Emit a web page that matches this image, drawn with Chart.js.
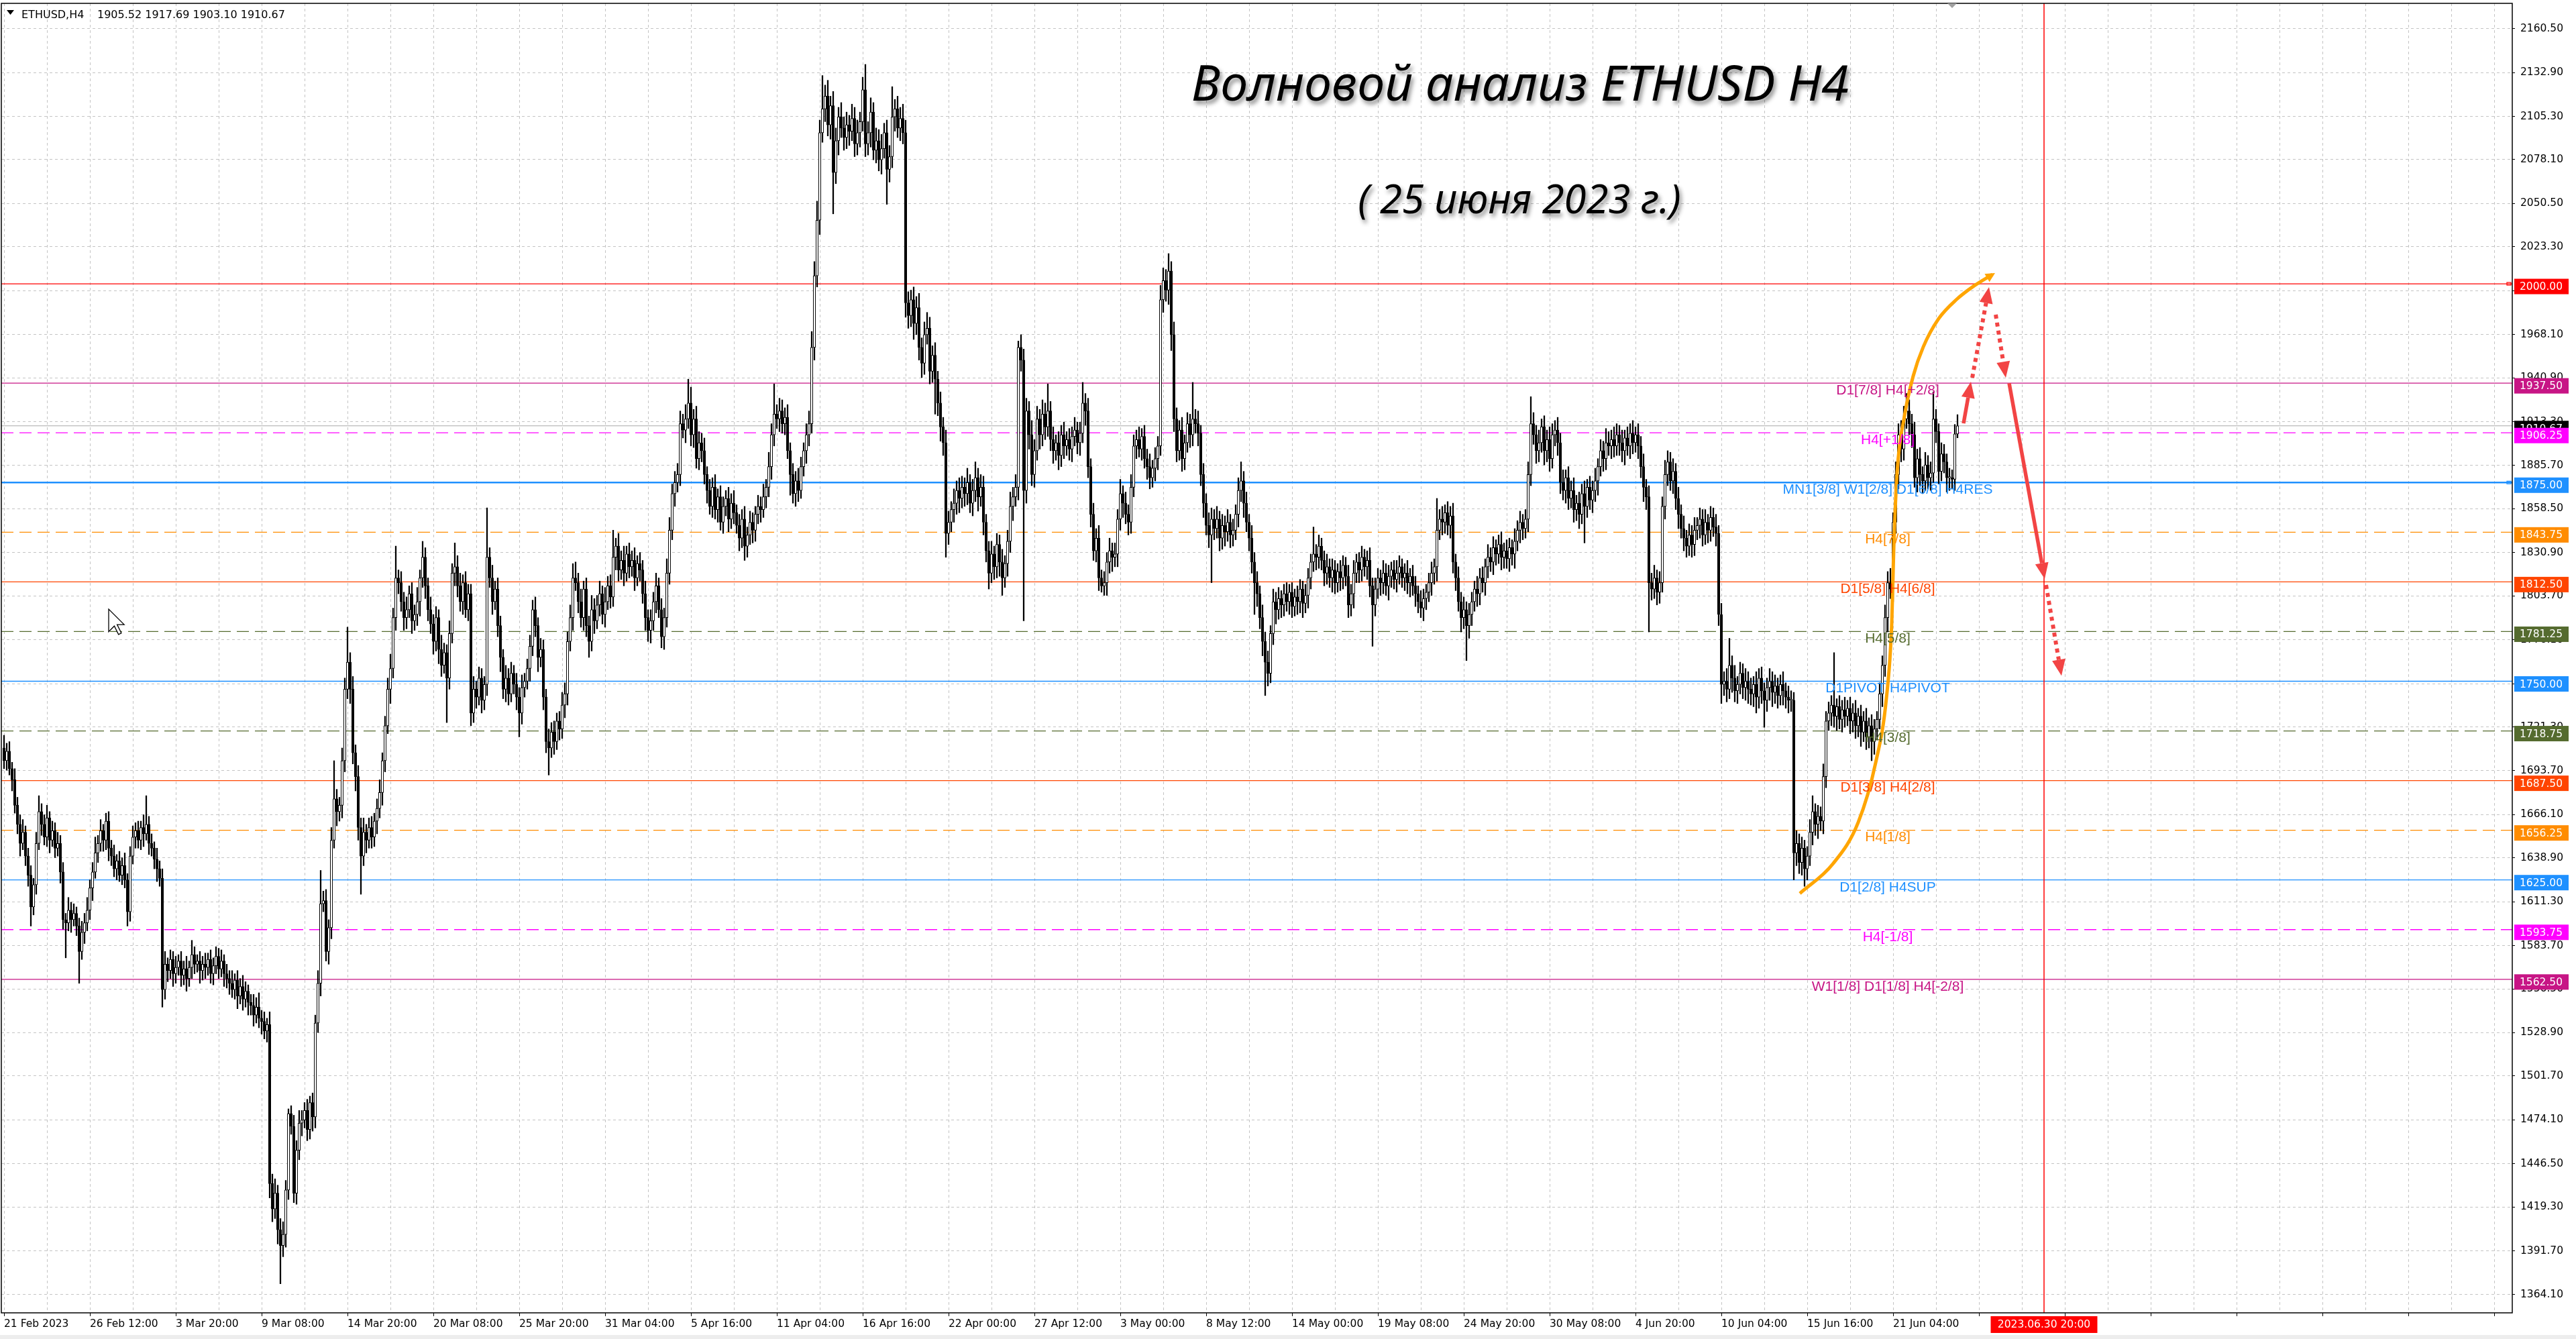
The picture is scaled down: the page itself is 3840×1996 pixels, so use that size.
<!DOCTYPE html>
<html>
<head>
<meta charset="utf-8">
<script src="https://cdn.jsdelivr.net/npm/chart.js@4.4.0/dist/chart.umd.min.js"></script>
<style>
  html, body { margin: 0; padding: 0; background: #fff; overflow: hidden; }
  canvas { display: block; }
</style>
</head>
<body>
<canvas id="chart" width="3840" height="1996"></canvas>
<script>
// ETHUSD H4, bar 0 = 21 Feb 2023. Values.
// Each candle opens at the previous close (24/7 market), first open given apart.
const firstOpen = 1708;
const closes = [
  1700,1706,1695,1688,1672,1660,1648,1655,1640,1628,
  1608,1622,1648,1668,1660,1652,1664,1650,1656,1645,
  1648,1630,1600,1598,1606,1600,1604,1596,1580,1592,
  1598,1606,1620,1630,1642,1648,1656,1650,1662,1645,
  1640,1632,1637,1628,1634,1625,1605,1640,1652,1656,
  1650,1658,1654,1660,1648,1645,1638,1632,1626,1556,
  1572,1568,1575,1566,1570,1574,1565,1569,1563,1570,
  1578,1572,1574,1568,1572,1570,1575,1566,1571,1577,
  1569,1574,1566,1563,1560,1556,1562,1552,1558,1550,
  1555,1548,1546,1540,1545,1538,1536,1530,1534,1434,
  1418,1428,1405,1395,1402,1430,1478,1470,1428,1455,
  1472,1474,1480,1468,1485,1476,1535,1560,1610,1612,
  1580,1595,1650,1676,1668,1672,1700,1745,1762,1745,
  1705,1690,1658,1640,1655,1650,1658,1652,1662,1670,
  1680,1700,1722,1745,1758,1790,1815,1812,1800,1790,
  1795,1805,1788,1792,1800,1815,1828,1810,1795,1786,
  1775,1790,1770,1760,1768,1752,1780,1818,1822,1810,
  1800,1812,1795,1805,1730,1745,1740,1752,1738,1748,
  1828,1815,1800,1808,1785,1765,1745,1752,1742,1755,
  1748,1740,1730,1746,1750,1758,1772,1795,1785,1765,
  1770,1740,1712,1708,1718,1712,1725,1720,1735,1742,
  1775,1790,1815,1812,1800,1790,1808,1785,1775,1795,
  1788,1798,1805,1792,1800,1810,1803,1828,1835,1820,
  1826,1818,1830,1822,1826,1815,1824,1820,1805,1790,
  1782,1788,1800,1810,1795,1778,1790,1818,1845,1868,
  1875,1880,1912,1908,1915,1925,1905,1915,1890,1900,
  1895,1880,1870,1860,1872,1858,1866,1850,1860,1865,
  1852,1862,1856,1848,1840,1852,1835,1842,1850,1845,
  1855,1860,1858,1866,1872,1885,1905,1918,1915,1920,
  1912,1916,1895,1880,1868,1876,1870,1885,1895,1905,
  1912,1960,2005,2040,2095,2110,2118,2100,2112,2070,
  2090,2105,2098,2092,2100,2096,2104,2088,2095,2102,
  2122,2088,2095,2108,2084,2090,2078,2085,2095,2072,
  2080,2105,2110,2098,2104,2095,1988,1980,1990,1975,
  1985,1960,1950,1968,1972,1945,1955,1940,1925,1910,
  1900,1843,1850,1858,1862,1870,1865,1872,1868,1875,
  1862,1870,1878,1866,1872,1850,1832,1818,1830,1822,
  1836,1825,1815,1824,1838,1860,1866,1872,1960,1952,
  1870,1920,1905,1880,1895,1915,1905,1918,1910,1920,
  1902,1895,1900,1892,1905,1898,1902,1896,1904,1908,
  1900,1906,1925,1920,1885,1855,1832,1840,1815,1810,
  1812,1825,1832,1828,1830,1852,1868,1862,1855,1850,
  1872,1898,1902,1896,1904,1890,1885,1878,1884,1890,
  1898,1990,2002,1996,2008,1968,1915,1895,1908,1890,
  1900,1912,1905,1915,1912,1906,1880,1862,1848,1842,
  1852,1846,1852,1840,1848,1844,1850,1842,1845,1855,
  1870,1876,1862,1850,1840,1825,1812,1805,1790,1775,
  1762,1755,1780,1800,1795,1802,1798,1805,1800,1806,
  1797,1803,1800,1808,1799,1804,1815,1825,1830,1828,
  1835,1826,1818,1822,1815,1820,1812,1819,1815,1823,
  1816,1798,1805,1818,1825,1820,1828,1822,1826,1810,
  1798,1808,1815,1812,1818,1810,1816,1820,1814,1818,
  1822,1815,1818,1812,1816,1810,1805,1800,1796,1802,
  1806,1812,1818,1822,1845,1852,1850,1856,1848,1854,
  1825,1815,1800,1790,1795,1785,1792,1800,1808,1805,
  1815,1812,1822,1828,1825,1834,1830,1836,1828,1832,
  1827,1834,1830,1838,1845,1850,1846,1852,1880,1912,
  1905,1895,1900,1910,1895,1902,1890,1905,1908,1900,
  1875,1870,1878,1865,1870,1858,1862,1855,1868,1860,
  1872,1864,1870,1876,1885,1895,1890,1900,1898,1902,
  1898,1905,1900,1895,1903,1898,1906,1900,1905,1898,
  1885,1872,1866,1812,1808,1815,1806,1812,1860,1880,
  1888,1876,1882,1865,1855,1846,1840,1835,1842,1836,
  1845,1848,1852,1842,1850,1845,1853,1847,1843,1792,
  1748,1750,1745,1760,1752,1744,1748,1755,1746,1750,
  1745,1742,1748,1740,1752,1744,1738,1746,1750,1743,
  1747,1741,1748,1744,1740,1738,1738,1642,1648,1636,
  1645,1632,1640,1655,1668,1660,1665,1662,1690,1725,
  1730,1735,1728,1734,1726,1732,1728,1733,1725,1730,
  1722,1728,1718,1725,1715,1722,1712,1720,1726,1742,
  1760,1790,1812,1808,1850,1880,1905,1896,1915,1920,
  1912,1905,1878,1890,1880,1876,1886,1878,1881,1915,
  1907,1882,1893,1888,1878,1878,1877,1905.52,1910.67
];
// shadow lengths above / below the body
const upperWick = [
  8,5,6,4,7,5,6,8,4,5, 6,4,7,10,5,6,8,4,6,5, 7,5,6,4,8,5,6,4,5,7, 6,8,5,6,10,5,7,4,5,6,
  5,7,4,6,5,8,4,6,7,5, 6,4,8,18,5,6,4,7,5,6, 8,4,6,5,7,4,6,5,8,4, 9,5,4,6,5,7,4,6,5,6,
  5,7,4,6,5,8,4,6,5,7, 6,4,5,7,6,9,5,6,4,8, 6,9,5,7,8,6,3,5,7,6, 8,6,5,7,4,6,5,8,21,6,
  7,5,8,24,6,5,8,7,22,6, 8,5,7,6,9,5,6,7,5,6, 8,5,6,7,9,6,20,5,7,6, 8,5,7,6,9,5,10,6,5,8,
  6,7,5,9,6,5,8,6,15,7, 8,5,7,6,6,8,5,7,6,5, 31,6,8,5,7,6,5,8,6,7, 5,7,6,8,5,6,7,6,8,5,
  7,6,5,8,6,7,5,6,8,7, 6,8,9,10,6,8,5,7,6,9, 7,6,8,5,9,6,7,17,5,8, 6,9,5,7,6,8,5,7,6,8,
  5,7,6,8,5,7,6,9,8,6, 7,7,8,6,9,15,10,6,8,7, 6,8,5,7,6,8,5,7,6,5, 7,6,8,5,7,6,8,5,7,6,
  5,7,6,8,5,9,7,19,6,8, 7,6,8,5,7,6,8,6,5,7, 8,10,9,12,8,21,7,10,6,9, 8,6,9,7,8,6,9,7,8,6,
  8,16,7,9,6,8,7,9,6,8, 7,19,6,8,7,9,8,7,6,8, 7,9,6,8,10,7,6,8,5,7, 6,8,7,5,9,6,8,7,6,9,
  5,7,10,6,8,7,5,6,8,5, 7,6,8,5,7,9,6,8,4,8, 7,8,6,9,7,8,6,9,7,17, 6,8,5,7,6,8,5,7,6,8,
  5,7,13,6,8,5,7,6,8,5, 7,6,8,5,7,6,9,5,7,6, 8,7,6,8,5,7,6,8,5,7, 6,9,8,7,11,6,8,7,6,8,
  5,7,6,23,6,8,5,7,6,8, 7,6,8,5,7,6,8,5,7,6, 8,12,6,7,5,8,6,7,5,8, 6,7,5,8,6,7,5,6,7,5,
  6,5,7,6,5,7,6,5,17,6, 7,5,6,8,5,7,6,5,7,6, 5,7,6,8,5,6,7,5,6,8, 5,7,6,5,8,6,7,5,6,8,
  7,5,6,8,5,7,6,5,7,6, 5,6,7,5,20,6,8,5,7,6, 8,5,7,6,8,5,7,6,5,8, 6,7,5,8,6,7,5,6,8,5,
  7,6,5,8,6,7,5,6,8,17, 7,6,8,5,7,6,8,7,6,8, 6,8,5,7,6,8,5,7,6,8, 5,7,6,8,5,7,6,9,7,6,
  8,7,6,8,5,7,6,8,5,7, 6,8,5,7,6,8,5,7,6,9, 7,6,8,5,7,6,8,5,7,6, 8,5,7,6,8,5,7,6,8,5,
  7,6,8,17,6,8,5,7,6,8, 6,7,5,8,6,7,5,6,8,6, 7,5,6,8,5,7,6,5,8,6, 7,5,6,8,10,5,7,6,8,6,
  7,6,33,5,7,6,8,5,7,6, 8,5,7,6,8,5,7,6,5,7, 6,8,7,9,6,8,7,9,8,11, 7,6,8,6,7,5,8,6,7,17,
  6,5,7,6,5,6,5,6,7.02
];
const lowerWick = [
  5,6,4,7,5,6,8,4,6,7, 12,5,6,4,7,5,6,8,4,6, 5,7,6,22,5,8,4,6,20,5, 7,5,6,8,4,6,5,7,6,8,
  6,5,7,4,6,5,9,6,5,7, 5,6,8,4,7,5,6,8,5,11, 6,7,5,8,6,5,7,6,8,5, 7,6,5,8,6,7,5,6,7,5,
  6,5,8,6,7,5,6,8,5,7, 5,8,6,7,5,6,8,5,7,9, 8,6,9,24,7,8,6,5,6,7, 6,8,5,7,6,9,7,6,8,5,
  6,8,7,5,9,6,8,7,6,9, 7,9,8,24,6,8,5,7,6,8, 6,8,7,5,9,6,8,7,6,8, 7,5,8,6,7,9,6,8,7,6,
  8,6,9,7,5,28,7,6,8,7, 6,8,5,7,8,6,7,5,8,6, 7,6,8,5,7,9,6,8,7,5, 6,8,15,7,6,5,8,6,7,9,
  6,8,7,17,6,8,5,7,6,8, 7,6,8,5,7,6,8,7,10,6, 8,5,7,6,8,5,7,6,8,7, 6,8,5,7,6,8,5,7,6,8,
  7,8,6,7,5,7,8,6,7,6, 8,6,7,5,8,6,7,8,6,7, 7,6,8,5,7,6,8,5,7,6, 8,6,7,5,8,6,9,7,6,8,
  7,6,8,5,7,6,8,7,6,8, 6,7,5,13,6,8,7,5,6,8, 7,6,8,7,9,6,8,7,9,26, 7,9,6,8,7,9,6,8,7,9,
  6,8,7,9,6,8,7,9,6,22, 8,7,9,6,8,7,9,8,7,10, 7,8,9,7,6,8,7,22,8,9, 8,15,7,6,8,7,9,6,8,7,
  6,8,7,9,6,8,7,10,6,8, 7,9,11,6,8,7,9,6,8,7, 82,8,9,7,8,6,9,7,8,6, 7,8,6,9,7,8,6,7,8,6,
  7,8,6,9,7,8,6,7,8,4, 6,8,7,9,6,8,7,9,6,8, 7,6,8,5,7,6,8,7,6,8, 7,6,8,7,9,10,8,7,6,8,
  7,6,8,7,6,8,7,9,6,8, 30,7,6,8,7,9,6,8,7,6, 8,7,9,6,8,7,20,8,7,9, 21,8,6,7,9,6,8,7,6,8,
  7,6,8,7,9,6,8,7,6,8, 7,6,8,7,6,9,7,6,8,7, 6,8,7,9,6,8,7,6,8,7, 26,7,6,8,7,6,9,7,6,8,
  7,6,8,7,9,6,8,7,6,8, 7,6,8,7,9,6,8,7,6,8, 7,8,6,9,7,22,8,7,6,8, 7,6,8,7,6,8,7,6,8,7,
  6,8,7,9,6,8,7,6,8,7, 6,8,7,6,9,7,8,6,7,8, 7,6,8,7,6,8,7,9,6,23, 7,6,8,7,9,6,8,7,6,8,
  7,6,8,7,9,6,8,7,6,8, 7,9,8,31,7,6,8,7,6,8, 7,6,8,7,9,6,8,7,6,8, 7,6,8,7,6,8,7,6,8,7,
  12,7,8,6,9,7,8,6,7,8, 9,7,8,10,7,8,17,7,8,9, 7,8,6,9,7,8,7,17,8,7, 8,11,7,6,8,7,9,6,8,7,
  6,8,7,9,6,8,7,6,8,7, 8,7,9,6,8,7,12,8,7,6, 8,7,9,6,8,7,9,8,7,6, 7,8,6,9,7,8,6,7,8,6,
  7,8,6,7,9,8,6,7,2.42
];

const dateLabels = ['21 Feb 2023','26 Feb 12:00','3 Mar 20:00','9 Mar 08:00','14 Mar 20:00','20 Mar 08:00',
  '25 Mar 20:00','31 Mar 04:00','5 Apr 16:00','11 Apr 04:00','16 Apr 16:00','22 Apr 00:00','27 Apr 12:00',
  '3 May 00:00','8 May 12:00','14 May 00:00','19 May 08:00','24 May 20:00','30 May 08:00','4 Jun 20:00',
  '10 Jun 04:00','15 Jun 16:00','21 Jun 04:00'];
const priceTicks = [2160.5,2132.9,2105.3,2078.1,2050.5,2023.3,1995.7,1968.1,1940.9,1913.3,1885.7,1858.5,
  1830.9,1803.7,1776.1,1748.5,1721.3,1693.7,1666.1,1638.9,1611.3,1583.7,1556.5,1528.9,1501.7,1474.1,
  1446.5,1419.3,1391.7,1364.1];

// Murrey levels
const levelPrices = [2000, 1937.5, 1906.25, 1875, 1843.75, 1812.5, 1781.25, 1750, 1718.75, 1687.5, 1656.25, 1625, 1593.75, 1562.5];
const levelNames = ['', 'D1[7/8] H4[+2/8]', 'H4[+1/8]', 'MN1[3/8] W1[2/8] D1[6/8] H4RES', 'H4[7/8]', 'D1[5/8] H4[6/8]',
  'H4[5/8]', 'D1PIVOT H4PIVOT', 'H4[3/8]', 'D1[3/8] H4[2/8]', 'H4[1/8]', 'D1[2/8] H4SUP', 'H4[-1/8]', 'W1[1/8] D1[1/8] H4[-2/8]'];
const lastPrice = 1910.67;
const header = ['ETHUSD,H4', '1905.52 1917.69 1903.10 1910.67'];

// hand drawn wave arc (bar index, price)
const waveBars = [669.25, 681.5, 691, 697.5, 701.5, 703.5, 704.25, 705.5, 708.25, 711.5, 715.25, 721, 727.75, 734.25, 741];
const wavePrices = [1616.5, 1635, 1661.2, 1698.7, 1739.2, 1786.5, 1833.7, 1881.4, 1916.9, 1942, 1960.3, 1978.1, 1990.3, 1998.8, 2005.9];
// forecast arrows: from bar, from price, to bar, to price, dotted
const forecastArrows = [
  [730.25, 1912.2, 733, 1938.4, 0],
  [733.5, 1940.9, 739.75, 1997.9, 1],
  [742.25, 1980.6, 746, 1940.9, 1],
  [747.25, 1937.5, 760.5, 1814.3, 0],
  [761, 1810.5, 766.75, 1753.5, 1]
];
const futureBar = 760.25;
const futureLabel = '2023.06.30 20:00';
const titleText = 'Волновой анализ ETHUSD H4';
const subtitleText = '( 25 июня 2023 г.)';

// ---- build candles ----
const opens = closes.map((c, i) => i === 0 ? firstOpen : closes[i - 1]);
const highs = closes.map((c, i) => Math.max(opens[i], c) + (upperWick[i] ?? 5));
const lows = closes.map((c, i) => Math.min(opens[i], c) - (lowerWick[i] ?? 5));

const levelColors = ['#FF0000','#C71585','#FF00FF','#1E90FF','#FF8C00','#FF4500','#556B2F','#1E90FF','#556B2F','#FF4500','#FF8C00','#1E90FF','#FF00FF','#C71585'];
const levelDashed = [0,0,1,0,1,0,1,0,1,0,1,0,1,0];
const Y_MIN = 1352.7, Y_MAX = 2176.41, X_MIN = -1, X_MAX = 934.75;
const axisFont = { family: '"DejaVu Sans", sans-serif', size: 15.5 };

const datasets = [];
levelPrices.forEach((p, k) => {
  datasets.push({
    type: 'line', data: [{ x: X_MIN, y: p }, { x: X_MAX, y: p }],
    borderColor: levelColors[k], borderWidth: k === 3 ? 2.6 : 1.3,
    borderDash: levelDashed[k] ? [18, 9] : [], pointRadius: 0, order: 20
  });
});
datasets.push({ type: 'line', data: [{ x: X_MIN, y: lastPrice }, { x: X_MAX, y: lastPrice }],
  borderColor: '#A8A8A8', borderWidth: 1.2, pointRadius: 0, order: 21 });
datasets.push({ type: 'line', data: [{ x: futureBar, y: Y_MIN }, { x: futureBar, y: Y_MAX }],
  borderColor: '#FF0000', borderWidth: 1.5, pointRadius: 0, order: 19 });
datasets.push({
  type: 'bar', data: closes.map((c, i) => ({ x: i, y: [lows[i], highs[i]] })),
  backgroundColor: '#000', borderWidth: 0, barThickness: 1.6, grouped: false, order: 6
});
datasets.push({
  type: 'bar', data: closes.map((c, i) => ({ x: i, y: [opens[i], c] })),
  backgroundColor: closes.map((c, i) => c >= opens[i] ? '#FFFFFF' : '#000000'),
  borderColor: '#000', borderWidth: 1, borderSkipped: false, barThickness: 3.4,
  minBarLength: 1.5, grouped: false, order: 5
});
datasets.push({
  type: 'line', data: waveBars.map((b, i) => ({ x: b, y: wavePrices[i] })),
  borderColor: '#FFA500', borderWidth: 5, pointRadius: 0, cubicInterpolationMode: 'monotone', order: 1
});

// keep the plot frame where the screenshot has it (no extra room for edge labels)
const noEdgePadding = s => { s.paddingTop = 0; s.paddingBottom = 0; s.paddingLeft = 0; s.paddingRight = 0; };

const overlay = {
  id: 'overlay',
  beforeDraw(chart) {
    const ctx = chart.ctx;
    ctx.save();
    ctx.fillStyle = '#fff';
    ctx.fillRect(0, 0, chart.width, chart.height);
    ctx.fillStyle = '#EDEDED';
    ctx.fillRect(0, 1990, chart.width, 6);
    ctx.restore();
  },
  afterDraw(chart) {
    const { ctx, chartArea: a, scales: { x, y } } = chart;
    ctx.save();

    // frame
    ctx.strokeStyle = '#000';
    ctx.lineWidth = 1.5;
    ctx.strokeRect(a.left, a.top, a.right - a.left, a.bottom - a.top);

    // level captions
    ctx.font = '21px "Liberation Sans", Arial, sans-serif';
    ctx.textAlign = 'center';
    ctx.textBaseline = 'middle';
    const capX = x.getPixelForValue(702);
    levelNames.forEach((t, k) => {
      if (!t) return;
      ctx.fillStyle = levelColors[k];
      ctx.fillText(t, capX, y.getPixelForValue(levelPrices[k]) + 11);
    });

    // forecast arrows
    const red = '#F24444';
    const arrow = (x1, y1, x2, y2, dotted, color, w, L, W) => {
      const ang = Math.atan2(y2 - y1, x2 - x1);
      const bx = x2 - L * Math.cos(ang), by = y2 - L * Math.sin(ang);
      ctx.strokeStyle = color; ctx.fillStyle = color;
      ctx.lineWidth = w;
      ctx.setLineDash(dotted ? [6, 6] : []);
      ctx.beginPath(); ctx.moveTo(x1, y1); ctx.lineTo(bx, by); ctx.stroke();
      ctx.setLineDash([]);
      ctx.beginPath();
      ctx.moveTo(x2, y2);
      ctx.lineTo(bx + W * Math.sin(ang), by - W * Math.cos(ang));
      ctx.lineTo(bx - W * Math.sin(ang), by + W * Math.cos(ang));
      ctx.closePath(); ctx.fill();
    };
    forecastArrows.forEach(f => {
      arrow(x.getPixelForValue(f[0]), y.getPixelForValue(f[1]), x.getPixelForValue(f[2]), y.getPixelForValue(f[3]),
        f[4], red, f[4] ? 6 : 5.5, 24, 10);
    });
    // tip of the wave arc
    const n = waveBars.length;
    arrow(x.getPixelForValue(waveBars[n - 2]), y.getPixelForValue(wavePrices[n - 2]),
      x.getPixelForValue(waveBars[n - 1]) + 4, y.getPixelForValue(wavePrices[n - 1]) - 2, 0, '#FFA500', 0.1, 14, 7);

    // titles
    ctx.shadowColor = 'rgba(0,0,0,0.45)';
    ctx.shadowBlur = 6; ctx.shadowOffsetX = 3; ctx.shadowOffsetY = 5;
    ctx.fillStyle = '#000';
    ctx.textBaseline = 'alphabetic';
    const fitFont = (text, w) => {
      ctx.font = 'italic 100px "Noto Sans", "DejaVu Sans", sans-serif';
      const s = 100 * w / ctx.measureText(text).width;
      ctx.font = `italic ${s.toFixed(1)}px "Noto Sans", "DejaVu Sans", sans-serif`;
    };
    fitFont(titleText, 980);
    ctx.fillText(titleText, 2266, 150);
    fitFont(subtitleText, 482);
    ctx.fillText(subtitleText, 2265, 318);
    ctx.shadowColor = 'transparent';
    ctx.shadowBlur = 0; ctx.shadowOffsetX = 0; ctx.shadowOffsetY = 0;

    // header
    ctx.fillStyle = '#000';
    ctx.beginPath(); ctx.moveTo(10, 15); ctx.lineTo(21, 15); ctx.lineTo(15.5, 22); ctx.closePath(); ctx.fill();
    ctx.font = '16px "DejaVu Sans", sans-serif';
    ctx.textAlign = 'left';
    ctx.fillText(header[0], 32, 27);
    ctx.fillText(header[1], 145, 27);

    // price boxes on the right scale
    ctx.font = '15.5px "DejaVu Sans", sans-serif';
    ctx.textBaseline = 'middle';
    const box = (p, color) => {
      const yy = y.getPixelForValue(p) + 4;
      ctx.fillStyle = color;
      ctx.fillRect(a.right + 3, yy - 11.5, 81, 23);
      ctx.fillStyle = '#fff';
      ctx.fillText(p.toFixed(2), a.right + 11, yy + 1);
    };
    box(lastPrice, '#000');
    levelPrices.forEach((p, k) => box(p, levelColors[k]));
    // small object markers at the right edge
    [[0, '#FF0000'], [3, '#1E90FF']].forEach(([k, c]) => {
      ctx.strokeStyle = c; ctx.lineWidth = 1.2;
      ctx.strokeRect(a.right - 8, y.getPixelForValue(levelPrices[k]) - 2, 6, 4);
    });

    // future time label
    const fx = x.getPixelForValue(futureBar);
    ctx.fillStyle = '#FF0000';
    ctx.fillRect(fx - 79.5, a.bottom + 5, 159, 25);
    ctx.fillStyle = '#fff';
    ctx.textAlign = 'center';
    ctx.fillText(futureLabel, fx, a.bottom + 18);

    // chart shift marker
    ctx.fillStyle = '#A0A0A0';
    const sx = x.getPixelForValue(closes.length - 1) - 8;
    ctx.beginPath(); ctx.moveTo(sx - 7, a.top); ctx.lineTo(sx + 7, a.top); ctx.lineTo(sx, a.top + 7); ctx.closePath(); ctx.fill();

    // mouse cursor
    const cx = 162, cy = 908, k = 2.1;
    const pts = [[0, 0], [0, 16], [4, 12], [7, 18], [9, 17], [6, 11], [11, 11]];
    ctx.beginPath();
    pts.forEach(([px, py], i) => i ? ctx.lineTo(cx + px * k, cy + py * k) : ctx.moveTo(cx + px * k, cy + py * k));
    ctx.closePath();
    ctx.fillStyle = '#fff'; ctx.fill();
    ctx.strokeStyle = '#000'; ctx.lineWidth = 1.3; ctx.stroke();

    ctx.restore();
  }
};

new Chart(document.getElementById('chart'), {
  type: 'bar',
  data: { datasets },
  options: {
    responsive: false,
    devicePixelRatio: 1,
    animation: false,
    events: [],
    layout: { padding: { left: 2, top: 5, right: 0, bottom: 0 } },
    plugins: { legend: { display: false }, tooltip: { enabled: false }, title: { display: false } },
    scales: {
      x: {
        type: 'linear', min: X_MIN, max: X_MAX, offset: false,
        afterFit: s => { s.height = 39; noEdgePadding(s); },
        afterBuildTicks: s => { const t = []; for (let v = 0; v <= 928; v += 16) t.push({ value: v }); s.ticks = t; },
        grid: {
          offset: false, color: '#C4C4C4', lineWidth: 1, tickLength: 5, tickBorderDash: [],
          tickColor: c => (c.tick && c.tick.value % 32 === 0) ? '#000' : 'rgba(0,0,0,0)'
        },
        border: { display: false, dash: [4, 4] },
        ticks: {
          autoSkip: false, maxRotation: 0, minRotation: 0, align: 'start', padding: 3,
          color: '#000', font: axisFont,
          callback: v => v % 32 === 0 ? (dateLabels[v / 32] || '') : ''
        }
      },
      y: {
        type: 'linear', position: 'right', min: Y_MIN, max: Y_MAX,
        afterFit: s => { s.width = 95; noEdgePadding(s); },
        afterBuildTicks: s => { s.ticks = priceTicks.map(v => ({ value: v })); },
        grid: { color: '#C4C4C4', lineWidth: 1, tickLength: 4, tickColor: '#000', tickBorderDash: [] },
        border: { display: false, dash: [4, 4] },
        ticks: { color: '#000', font: axisFont, padding: 8, callback: v => Number(v).toFixed(2) }
      }
    }
  },
  plugins: [overlay]
});
</script>
</body>
</html>
